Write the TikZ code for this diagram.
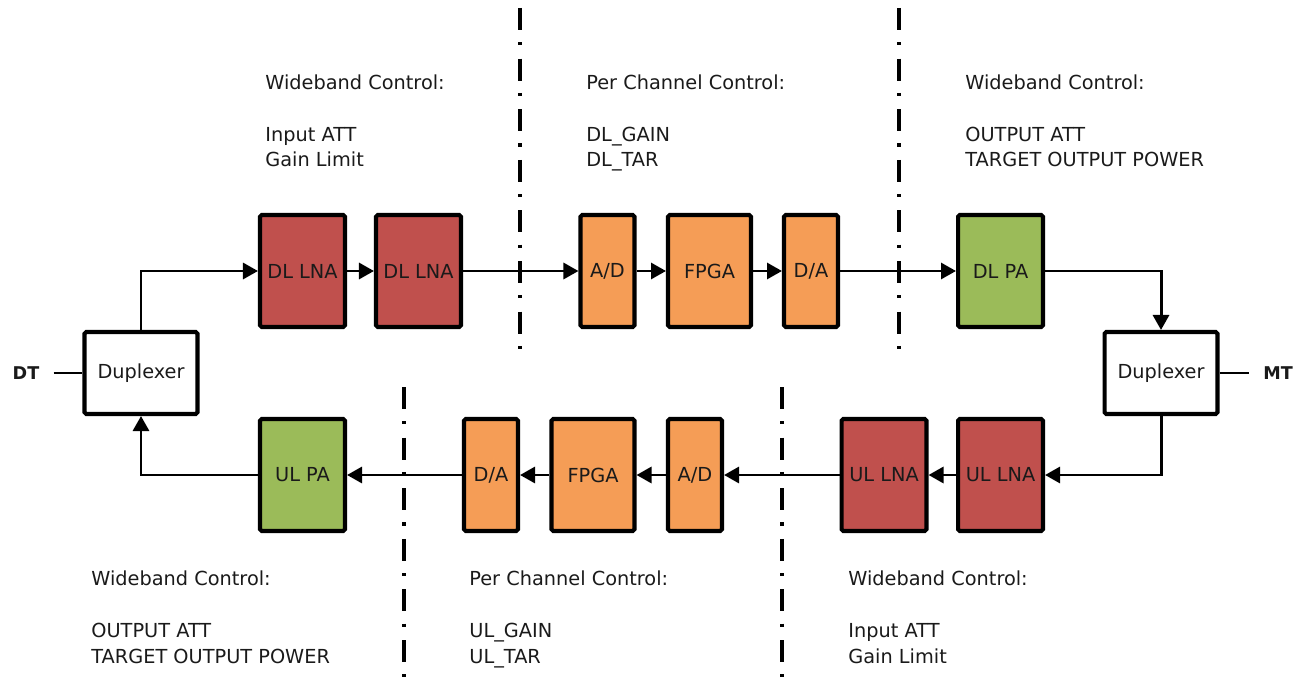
\documentclass[tikz,border=0pt]{standalone}
\usepackage{fontspec}
\setmainfont{DejaVu Sans}
\usetikzlibrary{arrows.meta}
\definecolor{lnaRed}{HTML}{C0504D}
\definecolor{convOrange}{HTML}{F59D56}
\definecolor{paGreen}{HTML}{9BBB59}
\definecolor{txtDark}{HTML}{1A1A1A}
\tikzset{
  blk/.style={rectangle, rounded corners=1pt, draw=black, line width=2.3pt, minimum width=1.7cm, minimum height=2.24cm, inner sep=0pt, text=txtDark},
  lna/.style={blk, fill=lnaRed},
  pa/.style={blk, fill=paGreen},
  conv/.style={blk, fill=convOrange, minimum width=1.08cm},
  proc/.style={blk, fill=convOrange, minimum width=1.66cm},
  dup/.style={blk, fill=white, minimum width=2.26cm, minimum height=1.64cm},
  term/.style={font=\bfseries, text=txtDark, inner xsep=8pt},
  ctrl/.style={anchor=base west, align=left, inner sep=0pt, text=txtDark},
  wire/.style={line width=1.7pt},
  flow/.style={wire, -{Triangle[length=3mm, width=3.2mm]}},
  divider/.style={line width=1.8pt, dash pattern=on 12.5pt off 7pt on 1.8pt off 7.5pt},
}
\begin{document}
\begin{tikzpicture}[x=0.02cm, y=-0.02cm, font=\fontsize{11}{14.75}\selectfont]
  \useasboundingbox (0,0) rectangle (1304,682);

  % downlink chain
  \node[lna]  (dlna1) at (302.5,271) {DL LNA};
  \node[lna]  (dlna2) at (418.5,271) {DL LNA};
  \node[conv] (dad)   at (607.5,271) {A/D};
  \node[proc] (dfpga) at (709.5,271) {FPGA};
  \node[conv] (dda)   at (811,271)   {D/A};
  \node[pa]   (dpa)   at (1000.5,271) {DL PA};

  % uplink chain
  \node[pa]   (upa)   at (302.5,475) {UL PA};
  \node[conv] (uda)   at (491,475)   {D/A};
  \node[proc] (ufpga) at (593,475)   {FPGA};
  \node[conv] (uad)   at (695,475)   {A/D};
  \node[lna]  (ulna2) at (884,475)   {UL LNA};
  \node[lna]  (ulna1) at (1000.5,475) {UL LNA};

  % duplexers and ports
  \node[dup]  (dupL)  at (141,373)  {Duplexer};
  \node[dup]  (dupR)  at (1161,373) {Duplexer};
  \node[term] (dt)    at (26,373)   {DT};
  \node[term] (mt)    at (1278,373) {MT};

  \draw[wire] (dt) -- (dupL);
  \draw[wire] (dupR) -- (mt);

  \draw[flow] (dupL.north) |- (dlna1);
  \draw[flow] (dlna1) -- (dlna2);
  \draw[flow] (dlna2) -- (dad);
  \draw[flow] (dad) -- (dfpga);
  \draw[flow] (dfpga) -- (dda);
  \draw[flow] (dda) -- (dpa);
  \draw[flow] (dpa) -| (dupR.north);

  \draw[flow] (dupR.south) |- (ulna1);
  \draw[flow] (ulna1) -- (ulna2);
  \draw[flow] (ulna2) -- (uad);
  \draw[flow] (uad) -- (ufpga);
  \draw[flow] (ufpga) -- (uda);
  \draw[flow] (uda) -- (upa);
  \draw[flow] (upa) -| (dupL.south);

  % section borders
  \draw[divider] (520,8) -- (520,360);
  \draw[divider] (899,8) -- (899,360);
  \draw[divider] (404,387) -- (404,682);
  \draw[divider] (782,387) -- (782,682);

  % control notes (anchored on the last line)
  \node[ctrl] (ctlTL) at (265,167) {Wideband Control:\\[14.75pt]Input ATT\\Gain Limit};
  \node[ctrl] (ctlTM) at (586,167) {Per Channel Control:\\[14.75pt]DL\_GAIN\\DL\_TAR};
  \node[ctrl] (ctlTR) at (965,167) {Wideband Control:\\[14.75pt]OUTPUT ATT\\TARGET OUTPUT POWER};
  \node[ctrl] (ctlBL) at (91,663)  {Wideband Control:\\[14.75pt]OUTPUT ATT\\TARGET OUTPUT POWER};
  \node[ctrl] (ctlBM) at (469,663) {Per Channel Control:\\[14.75pt]UL\_GAIN\\UL\_TAR};
  \node[ctrl] (ctlBR) at (848,663) {Wideband Control:\\[14.75pt]Input ATT\\Gain Limit};
\end{tikzpicture}
\end{document}
